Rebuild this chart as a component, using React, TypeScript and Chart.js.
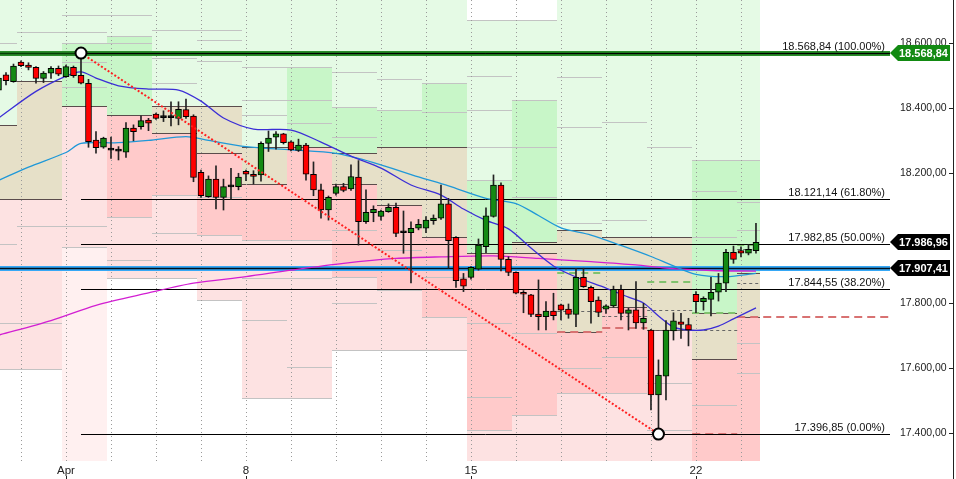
import React, { useEffect, useRef } from "react";
import { Chart, registerables } from "chart.js";

Chart.register(...registerables);

// ---------- DATA ----------
// candles: 6 bars per trading day, index 0 = 27 Mar (partial)
const opens = [
  18455, 18502, 18481, 18541, 18532, 18525, 18491, 18507, 18522, 18496, 18525, 18500,
  18476, 18301, 18279, 18271, 18268, 18264, 18338, 18342, 18363, 18381, 18371, 18370,
  18368, 18395, 18375, 18202, 18127, 18181, 18125, 18157, 18158, 18205, 18196, 18194,
  18291, 18310, 18320, 18296, 18269, 18286, 18196, 18148, 18086, 18137, 18158, 18151,
  18187, 18050, 18078, 18066, 18081, 18094, 18016, 18016, 18030, 18030, 18053, 18061,
  18105, 18002, 17874, 17879, 17904, 17973, 18066, 18163, 17934, 17894, 17833, 17825,
  17766, 17758, 17775, 17794, 17781, 17765, 17879, 17848, 17809, 17781, 17791, 17842,
  17768, 17779, 17739, 17717, 17517, 17575, 17714, 17742, 17734, 17827, 17804, 17811,
  17833, 17861, 17956, 17961, 17953, 17961,
];
const highs = [
  18502, 18509, 18535, 18545, 18539, 18527, 18512, 18527, 18529, 18532, 18529, 18568.84,
  18488, 18327, 18310, 18310, 18281, 18355, 18348, 18376, 18368, 18384, 18391, 18419,
  18419, 18427, 18379, 18209, 18191, 18222, 18181, 18214, 18199, 18209, 18207, 18296,
  18329, 18327, 18322, 18299, 18304, 18291, 18234, 18166, 18129, 18166, 18168, 18225,
  18238, 18148, 18099, 18086, 18105, 18107, 18083, 18050, 18057, 18066, 18071, 18163,
  18122, 18004, 17891, 17912, 17997, 18093, 18194, 18170, 17942, 17896, 17838, 17827,
  17871, 17804, 17830, 17797, 17797, 17907, 17907, 17852, 17819, 17794, 17852, 17855,
  17784, 17866, 17799, 17719, 17625, 17746, 17770, 17768, 17753, 17835, 17819, 17879,
  17891, 17965, 17975, 17973, 17979, 18045,
];
const lows = [
  18452, 18471, 18479, 18527, 18517, 18476, 18478, 18491, 18499, 18494, 18494, 18474,
  18279, 18261, 18276, 18245, 18240, 18248, 18299, 18335, 18330, 18365, 18358, 18345,
  18348, 18368, 18173, 18125, 18125, 18089, 18086, 18119, 18148, 18176, 18166, 18175,
  18266, 18273, 18289, 18268, 18266, 18178, 18130, 18061, 18055, 18132, 18142, 18146,
  17978, 18045, 18050, 18055, 18079, 18004, 17953, 17862, 18025, 18016, 18042, 18057,
  17907, 17848, 17835, 17873, 17901, 17955, 18064, 17899, 17884, 17828, 17770, 17758,
  17717, 17717, 17748, 17748, 17753, 17727, 17848, 17738, 17758, 17768, 17787, 17748,
  17717, 17722, 17719, 17471, 17396.85, 17502, 17686, 17691, 17668, 17770, 17778, 17760,
  17806, 17835, 17922, 17942, 17948, 17953,
];
const closes = [
  18492, 18484, 18529, 18530, 18525, 18491, 18507, 18522, 18504, 18527, 18499, 18476,
  18296, 18278, 18307, 18270, 18267, 18338, 18327, 18361, 18353, 18368, 18370, 18370,
  18396, 18373, 18186, 18130, 18181, 18125, 18158, 18157, 18187, 18196, 18189, 18291,
  18307, 18320, 18293, 18271, 18286, 18196, 18148, 18086, 18125, 18158, 18146, 18189,
  18050, 18079, 18088, 18083, 18094, 18014, 18016, 18030, 18042, 18055, 18061, 18105,
  17992, 17869, 17852, 17910, 17978, 18068, 18163, 17934, 17894, 17830, 17827, 17765,
  17758, 17775, 17761, 17778, 17765, 17879, 17850, 17804, 17771, 17791, 17842, 17768,
  17779, 17739, 17753, 17517, 17578, 17717, 17745, 17734, 17717, 17804, 17814, 17833,
  17861, 17956, 17934, 17953, 17965, 17986.96,
];

// trading days (first / last candle index of each day)
const dayStart = [-3, 3, 9, 15, 21, 27, 33, 39, 45, 51, 57, 63, 69, 75, 81, 87, 93, 99];
const dayEnd = [2, 8, 14, 20, 26, 32, 38, 44, 50, 56, 62, 68, 74, 80, 86, 92, 98, 101];
const dayTickIdx = [9, 33, 63, 93];
const dayTickLabels = ["Apr", "8", "15", "22"];

// 18.000,00 sits under the last-price tag in the original, so it is not shown
const yTicks = [17400, 17600, 17800, 18200, 18400, 18600];
const yMin = 17314;
const yMax = 18732;
const xMin = 0.2;
const xMax = 118.87;

// moving averages [candle index, value]
const fastMA = [
  [0, 18369], [5, 18451], [9, 18498], [11, 18511], [13, 18492], [16, 18468], [20, 18458],
  [24, 18455], [27, 18421], [30, 18369], [34, 18335], [39, 18332], [43, 18295], [47, 18252],
  [51, 18215], [55, 18163], [59, 18132], [62, 18089], [65, 18054], [68, 18028], [71, 17969],
  [74, 17914], [77, 17880], [81, 17846], [84, 17818], [86, 17800], [88, 17760], [90, 17726],
  [92, 17717], [94, 17717], [96, 17729], [98, 17751], [101, 17785],
];
const midMA = [
  [0, 18177], [4, 18218], [9, 18263], [11, 18291], [16, 18293], [20, 18300], [25, 18312],
  [28, 18300], [33, 18281], [39, 18271], [45, 18260], [50, 18232], [56, 18188], [60, 18160],
  [65, 18122], [69, 18106], [72, 18069], [75, 18031], [79, 18009], [83, 17977], [87, 17943],
  [90, 17914], [93, 17888], [97, 17881], [101, 17891],
];
const slowMA = [
  [0, 17701], [7, 17746], [13, 17793], [20, 17831], [26, 17861], [33, 17881], [39, 17901],
  [46, 17922], [53, 17937], [59, 17942], [66, 17945], [72, 17937], [79, 17927], [85, 17917],
  [89, 17907], [95, 17900], [101, 17898],
];

// Fibonacci retracement
const fibLevels = [18568.84, 18121.14, 17982.85, 17844.55, 17396.85];
const fibLabels = ["100.00%", "61.80%", "50.00%", "38.20%", "0.00%"];
const swingHigh = [11, 18568.84];
const swingLow = [88, 17396.85];
const resistanceLevel = 18568.84;
const supportLevel = 17907.41;
const priceTags: [number, string][] = [
  [18568.84, "#128a12"],
  [17986.96, "#000000"],
  [17907.41, "#000000"],
];

// daily zones: [upper, lower, kind]
const zoneBands: [number, number, string][][] = [
  [[18800, 18348, "LG"], [18348, 18119, "T"], [18119, 17597, "LR"]],
  [[18800, 18483, "LG"], [18483, 18119, "T"], [18119, 17597, "LR"]],
  [[18800, 18600, "LG"], [18600, 18407, "G"], [18407, 17973, "LR"], [17973, 17300, "PR"]],
  [[18800, 18620, "LG"], [18620, 18378, "G"], [18378, 18066, "R"], [18066, 17876, "LR"]],
  [[18800, 18406, "LG"], [18406, 18324, "T"], [18324, 18132, "R"], [18132, 17876, "LR"]],
  [[18800, 18406, "LG"], [18406, 18261, "T"], [18261, 18009, "R"], [18009, 17809, "LR"]],
  [[18800, 18281, "LG"], [18281, 18165, "T"], [18165, 17994, "R"], [17994, 17508, "LR"]],
  [[18800, 18527, "LG"], [18527, 18281, "G"], [18281, 17994, "R"], [17994, 17508, "LR"]],
  [[18800, 18404, "LG"], [18404, 18260, "G"], [18260, 18165, "T"], [18165, 17881, "R"], [17881, 17655, "LR"]],
  [[18800, 18394, "LG"], [18394, 18281, "G"], [18281, 18101, "T"], [18101, 17840, "R"], [17840, 17655, "LR"]],
  [[18800, 18476, "LG"], [18476, 18281, "G"], [18281, 18004, "T"], [18004, 17758, "R"], [17758, 17655, "LR"]],
  [[18671, 18178, "LG"], [18178, 17954, "G"], [17954, 17409, "R"], [17409, 17300, "LR"]],
  [[18671, 18425, "LG"], [18425, 17989, "G"], [17989, 17954, "T"], [17954, 17455, "R"], [17455, 17300, "LR"]],
  [[18800, 18025, "LG"], [18025, 17712, "T"], [17712, 17523, "R"], [17523, 17300, "LR"]],
  [[18800, 18004, "LG"], [18004, 17788, "T"], [17788, 17523, "R"], [17523, 17300, "LR"]],
  [[18800, 18004, "LG"], [18004, 17717, "T"], [17717, 17300, "LR"]],
  [[18800, 18240, "LG"], [18240, 17768, "G"], [17768, 17628, "T"], [17628, 17300, "R"]],
  [[18800, 18240, "LG"], [18240, 17892, "G"], [17892, 17758, "T"], [17758, 17300, "R"]],
];
const zoneLines = [
  [18601, 17980, 17737],
  [18633, 18038, 17737],
  [18686, 18634, 18542, 18465, 18038],
  [18686, 18601, 17932],
  [18640, 18553, 18476, 18014],
  [18640, 18609, 18543, 18127, 17912],
  [18527, 18425, 18378, 17876, 17748],
  [18425, 18353, 17876, 17604],
  [18512, 18312, 18025, 17800],
  [18489, 17963],
  [18389, 17881],
  [18498, 18394, 18281, 17738, 17512],
  [18281, 18127, 17707],
  [18496, 18342, 18045, 17600],
  [18358, 18055, 17635],
  [18280, 17553, 17409],
  [18143, 18002, 17486],
  [18110, 18025, 17676, 17584],
];
// dashed day levels: [day, value, kind]
const dashedLevels: [number, number, string][] = [
  [13, 17893, "g"], [13, 17775, "k"], [13, 17712, "r"],
  [14, 17760, "k"], [14, 17722, "r"],
  [15, 17864, "g"], [15, 17778, "k"], [15, 17717, "k"],
  [16, 17770, "g"], [16, 17717, "k"], [16, 17397, "r"],
  [17, 17978, "g"], [17, 17967, "k"], [17, 17860, "k"], [17, 17758, "rx"],
];

// ---------- STYLE ----------
const zoneColors: Record<string, string> = {
  LG: "#e5fae5",
  G: "#c8f6c8",
  T: "#e6e0c8",
  R: "#ffcaca",
  LR: "#fde2e2",
  PR: "#fff0f0",
};
const FONT = '"Liberation Sans", Arial, sans-serif';

function fmt(v: number): string {
  const s = v.toFixed(2);
  const [i, d] = s.split(".");
  return i.replace(/\B(?=(\d{3})+(?!\d))/g, ".") + "," + d;
}
const isGreen = (k: string) => k === "LG" || k === "G";
const isRed = (k: string) => k === "R" || k === "LR" || k === "PR";

const overlay = {
  id: "overlay",
  beforeDatasetsDraw(chart: any) {
    const ctx = chart.ctx as CanvasRenderingContext2D;
    const xs = chart.scales.x;
    const ys = chart.scales.y;
    const X = (v: number) => xs.getPixelForValue(v);
    const Y = (v: number) => ys.getPixelForValue(v);
    const ca = chart.chartArea;
    ctx.save();
    ctx.beginPath();
    ctx.rect(ca.left, ca.top, ca.right - ca.left, ca.bottom - ca.top);
    ctx.clip();

    // zone fills
    zoneBands.forEach((bands, d) => {
      const x0 = Math.round(X(dayStart[d] - 0.5));
      const x1 = Math.round(X(dayEnd[d] + 0.5));
      bands.forEach(([hi, lo, kind]) => {
        const y0 = Math.round(Y(hi));
        const y1 = Math.round(Y(lo));
        ctx.fillStyle = zoneColors[kind];
        ctx.fillRect(x0, y0, x1 - x0, y1 - y0);
      });
    });
    // zone lines
    zoneBands.forEach((bands, d) => {
      const x0 = Math.round(X(dayStart[d] - 0.5));
      const x1 = Math.round(X(dayEnd[d] + 0.5));
      const hline = (v: number, col: string) => {
        const y = Math.round(Y(v)) + 0.5;
        ctx.strokeStyle = col;
        ctx.lineWidth = 1;
        ctx.beginPath();
        ctx.moveTo(x0, y);
        ctx.lineTo(x1, y);
        ctx.stroke();
      };
      zoneLines[d].forEach((v) => hline(v, "#c3c3c3"));
      bands.forEach(([hi, lo, kind], b) => {
        if (b === 0 && hi < yMax) hline(hi, "#c3c3c3");
        if (b === bands.length - 1) {
          hline(lo, "#c3c3c3");
        } else {
          const nk = bands[b + 1][2];
          const dark = kind === "T" || nk === "T" || (isGreen(kind) && isRed(nk));
          hline(lo, dark ? "#5a4c4c" : "#c3c3c3");
        }
      });
    });
    // dotted day grid
    ctx.strokeStyle = "#9a9a9a";
    ctx.lineWidth = 1;
    ctx.setLineDash([1, 3]);
    dayStart.forEach((s) => {
      const x = Math.round(X(s)) + 0.5;
      ctx.beginPath();
      ctx.moveTo(x, ca.top);
      ctx.lineTo(x, ca.bottom);
      ctx.stroke();
    });
    // dashed day levels
    dashedLevels.forEach(([d, v, kind]) => {
      const x0 = X(dayStart[d] - 0.5);
      const x1 = kind === "rx" ? ca.right : X(dayEnd[d] + 0.5);
      const y = Math.round(Y(v)) + (kind === "k" ? 0.5 : 0);
      if (kind === "g") {
        ctx.strokeStyle = "#80c26e";
        ctx.lineWidth = 2;
        ctx.setLineDash([7, 5]);
      } else if (kind === "k") {
        ctx.strokeStyle = "#666666";
        ctx.lineWidth = 1;
        ctx.setLineDash([3, 3]);
      } else {
        ctx.strokeStyle = "#d87272";
        ctx.lineWidth = 2;
        ctx.setLineDash([8, 5]);
      }
      ctx.beginPath();
      ctx.moveTo(x0, y);
      ctx.lineTo(x1, y);
      ctx.stroke();
    });
    ctx.setLineDash([]);

    // thick resistance / support lines
    const thick = (v: number, outer: string, inner: string) => {
      const y = Math.round(Y(v)) + 0.5;
      ctx.strokeStyle = outer;
      ctx.lineWidth = 5;
      ctx.beginPath();
      ctx.moveTo(ca.left, y);
      ctx.lineTo(ca.right, y);
      ctx.stroke();
      ctx.strokeStyle = inner;
      ctx.lineWidth = 1.5;
      ctx.beginPath();
      ctx.moveTo(ca.left, y);
      ctx.lineTo(ca.right, y);
      ctx.stroke();
    };
    thick(resistanceLevel, "#2a8c2a", "#063d06");
    thick(supportLevel, "#36a8f6", "#00111f");

    // fib lines
    const fx = X(swingHigh[0]);
    ctx.strokeStyle = "#000";
    ctx.lineWidth = 1;
    fibLevels.forEach((v) => {
      const y = Math.round(Y(v)) + 0.5;
      ctx.beginPath();
      ctx.moveTo(fx, y);
      ctx.lineTo(ca.right, y);
      ctx.stroke();
    });
    ctx.restore();

    // fib labels
    ctx.save();
    ctx.font = `11px ${FONT}`;
    ctx.fillStyle = "#111";
    ctx.textAlign = "right";
    ctx.textBaseline = "bottom";
    fibLevels.forEach((v, i) => {
      ctx.fillText(`${fmt(v)} (${fibLabels[i]})`, ca.right - 5, Math.round(Y(v)) - 1);
    });
    ctx.restore();
  },
  afterDatasetsDraw(chart: any) {
    const ctx = chart.ctx as CanvasRenderingContext2D;
    const xs = chart.scales.x;
    const ys = chart.scales.y;
    const X = (v: number) => xs.getPixelForValue(v);
    const Y = (v: number) => ys.getPixelForValue(v);
    const ca = chart.chartArea;
    ctx.save();
    // red dotted trend line
    ctx.strokeStyle = "#ff2020";
    ctx.lineWidth = 2;
    ctx.setLineDash([2, 2]);
    ctx.beginPath();
    ctx.moveTo(X(swingHigh[0]), Y(swingHigh[1]));
    ctx.lineTo(X(swingLow[0]), Y(swingLow[1]));
    ctx.stroke();
    ctx.setLineDash([]);
    // swing circles
    [swingHigh, swingLow].forEach(([i, v]) => {
      ctx.beginPath();
      ctx.arc(X(i), Y(v), 5.5, 0, Math.PI * 2);
      ctx.fillStyle = "#fff";
      ctx.fill();
      ctx.lineWidth = 2;
      ctx.strokeStyle = "#000";
      ctx.stroke();
    });
    // axis tick marks
    ctx.strokeStyle = "#222";
    ctx.lineWidth = 1;
    yTicks.forEach((v) => {
      const y = Math.round(Y(v)) + 0.5;
      ctx.beginPath();
      ctx.moveTo(949, y);
      ctx.lineTo(953, y);
      ctx.stroke();
    });
    dayTickIdx.forEach((v) => {
      const x = Math.round(X(v)) + 0.5;
      ctx.beginPath();
      ctx.moveTo(x, 476);
      ctx.lineTo(x, 479);
      ctx.stroke();
    });
    ctx.beginPath();
    ctx.moveTo(953.5, 0);
    ctx.lineTo(953.5, chart.height);
    ctx.stroke();
    // price tags
    priceTags.forEach(([v, col]) => {
      const y = Math.round(Y(v));
      const x0 = ca.right;
      ctx.beginPath();
      ctx.moveTo(x0, y);
      ctx.lineTo(x0 + 8, y - 8);
      ctx.lineTo(950, y - 8);
      ctx.lineTo(950, y + 8);
      ctx.lineTo(x0 + 8, y + 8);
      ctx.closePath();
      ctx.fillStyle = col;
      ctx.fill();
      ctx.fillStyle = "#fff";
      ctx.font = `bold 11px ${FONT}`;
      ctx.textAlign = "left";
      ctx.textBaseline = "middle";
      ctx.fillText(fmt(v), 899, y + 0.5);
    });
    ctx.restore();
  },
};

export default function App() {
  const ref = useRef<HTMLCanvasElement | null>(null);
  useEffect(() => {
    document.body.style.margin = "0";
    const canvas = ref.current;
    if (!canvas) return;
    const idx = opens.map((_, i) => i);
    const bodyColors = idx.map((i) =>
      closes[i] - opens[i] > 1.5 ? "#138a13" : opens[i] - closes[i] > 1.5 ? "#ff0000" : "#000000"
    );
    const chart = new Chart(canvas, {
      type: "bar",
      data: {
        datasets: [
          {
            type: "line",
            data: fastMA.map(([x, y]) => ({ x, y })),
            borderColor: "#3b2ed6",
            borderWidth: 1.3,
            pointRadius: 0,
            tension: 0.3,
            order: 3,
          } as any,
          {
            type: "line",
            data: midMA.map(([x, y]) => ({ x, y })),
            borderColor: "#1f98d8",
            borderWidth: 1.3,
            pointRadius: 0,
            tension: 0.3,
            order: 3,
          } as any,
          {
            type: "line",
            data: slowMA.map(([x, y]) => ({ x, y })),
            borderColor: "#d21ed2",
            borderWidth: 1.3,
            pointRadius: 0,
            tension: 0.3,
            order: 3,
          } as any,
          {
            type: "bar",
            data: idx.map((i) => ({ x: i, y: [lows[i], highs[i]] })),
            backgroundColor: "#222222",
            borderWidth: 0,
            barThickness: 1,
            grouped: false,
            order: 2,
          } as any,
          {
            type: "bar",
            data: idx.map((i) => ({ x: i, y: [opens[i], closes[i]] })),
            backgroundColor: bodyColors,
            borderColor: "#000000",
            borderWidth: 1,
            borderSkipped: false,
            barThickness: 6,
            minBarLength: 2,
            grouped: false,
            order: 1,
          } as any,
        ],
      },
      options: {
        animation: false,
        responsive: false,
        devicePixelRatio: 1,
        events: [],
        layout: { padding: 0 },
        plugins: { legend: { display: false }, tooltip: { enabled: false } },
        scales: {
          x: {
            type: "linear",
            min: xMin,
            max: xMax,
            offset: false,
            grid: { display: false, drawTicks: false, offset: false },
            border: { display: false },
            afterBuildTicks: (s: any) => {
              s.ticks = dayTickIdx.map((v) => ({ value: v }));
            },
            afterFit: (s: any) => {
              s.height = 18;
              s.paddingLeft = 0;
              s.paddingRight = 0;
            },
            ticks: {
              autoSkip: false,
              maxRotation: 0,
              minRotation: 0,
              padding: 3,
              color: "#222",
              font: { family: FONT, size: 11.5 },
              callback: (_v: any, i: number) => dayTickLabels[i] ?? "",
            },
          },
          y: {
            type: "linear",
            position: "right",
            min: yMin,
            max: yMax,
            beginAtZero: false,
            grid: { display: false, drawTicks: false },
            border: { display: false },
            afterBuildTicks: (s: any) => {
              s.ticks = yTicks.map((v) => ({ value: v }));
            },
            afterFit: (s: any) => {
              s.width = 66;
              s.paddingTop = 0;
              s.paddingBottom = 0;
            },
            ticks: {
              autoSkip: false,
              crossAlign: "near",
              padding: 10,
              color: "#222",
              font: { family: FONT, size: 10.5 },
              callback: (v: any) => fmt(Number(v)),
            },
          },
        },
      } as any,
      plugins: [overlay],
    });
    return () => chart.destroy();
  }, []);
  return (
    <div style={{ width: 956, height: 479, position: "relative" }}>
      <canvas ref={ref} width={956} height={479} style={{ display: "block" }} />
    </div>
  );
}
